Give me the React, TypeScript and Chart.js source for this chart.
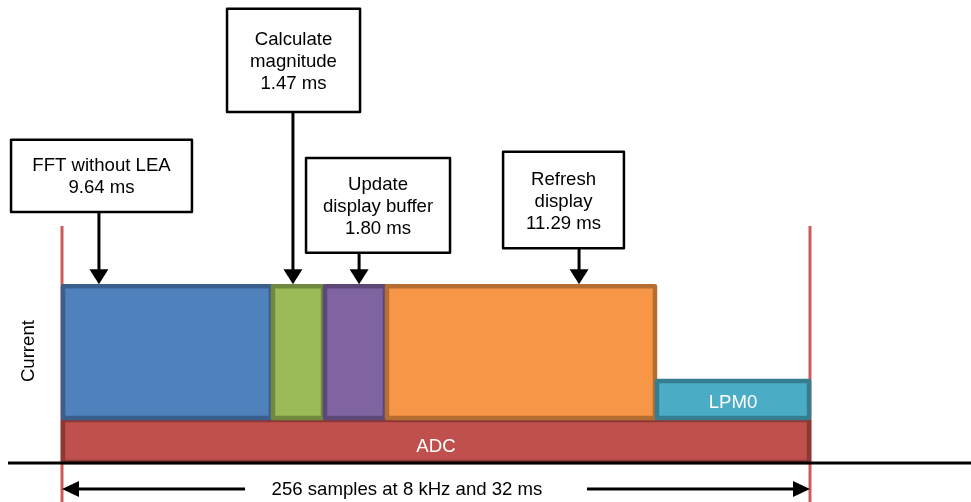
import React, { useEffect, useRef } from "react";
import { Chart, registerables } from "chart.js";
Chart.register(...registerables);

// ---- data (time in ms as drawn, current in arbitrary units) ----
const phaseNames = ["FFT without LEA", "Calculate magnitude", "Update display buffer", "Refresh display", "LPM0"];
const phaseStartMs = [0, 8.98, 11.21, 13.86, 25.41];
const phaseEndMs = [8.98, 11.21, 13.86, 25.41, 32];
const phaseCurrent = [38.4, 38.4, 38.4, 38.4, 17.9];
const phaseInnerLabel = ["", "", "", "", "LPM0"];
const adcLabel = "ADC";
const adcCurrent = 9.5;
const totalMs = 32;
const calloutText = [
  ["FFT without LEA", "9.64 ms"],
  ["Calculate", "magnitude", "1.47 ms"],
  ["Update", "display buffer", "1.80 ms"],
  ["Refresh", "display", "11.29 ms"],
];
const spanLabel = "256 samples at 8 kHz and 32 ms";
const yAxisLabel = "Current";

// ---- layout / style ----
const calloutBox = [
  { left: -2.18, right: 5.56, top: 69.8, bottom: 54.2, arrowX: 1.58 },
  { left: 7.06, right: 12.75, top: 98.1, bottom: 75.8, arrowX: 9.88 },
  { left: 10.44, right: 16.6, top: 65.9, bottom: 45.4, arrowX: 12.71 },
  { left: 18.87, right: 24.04, top: 67.2, bottom: 46.4, arrowX: 22.12 },
];
const fills = ["#4F81BD", "#9BBB59", "#8064A2", "#F79646", "#4BACC6"];
const borders = ["#3A5F8C", "#71893F", "#5C4776", "#B66D31", "#357D91"];
const adcFill = "#C0504D";
const adcBorder = "#8C3836";
const FONT = '18.6px "Liberation Sans", Arial, sans-serif';

const diagramPlugin = {
  id: "diagram",
  afterDraw(chart: any) {
    const ctx = chart.ctx as CanvasRenderingContext2D;
    const xs = chart.scales.x;
    const ys = chart.scales.y;
    const px = (v: number) => xs.getPixelForValue(v);
    const py = (v: number) => ys.getPixelForValue(v);
    const W = chart.width;
    const H = chart.height;
    ctx.save();

    // red boundary lines
    ctx.strokeStyle = "#CF5B59";
    ctx.lineWidth = 3;
    [0, totalMs].forEach((t) => {
      ctx.beginPath();
      ctx.moveTo(px(t), py(51.2));
      ctx.lineTo(px(t), H);
      ctx.stroke();
    });

    const rect = (x0: number, x1: number, y0: number, y1: number, fill: string, stroke: string) => {
      const l = px(x0), r = px(x1), t = py(y1), b = py(y0);
      ctx.fillStyle = fill;
      ctx.fillRect(l, t, r - l, b - t);
      ctx.strokeStyle = stroke;
      ctx.lineWidth = 4.5;
      ctx.lineJoin = "round";
      ctx.strokeRect(l + 1, t + 1, r - l - 2, b - t - 2);
    };

    // ADC bar
    rect(0, totalMs, 0, adcCurrent, adcFill, adcBorder);
    // phase bars
    phaseNames.forEach((_, i) => {
      rect(phaseStartMs[i], phaseEndMs[i], adcCurrent, phaseCurrent[i], fills[i], borders[i]);
    });

    ctx.font = FONT;
    ctx.textAlign = "center";
    ctx.textBaseline = "alphabetic";
    ctx.fillStyle = "#FFFFFF";
    ctx.fillText(adcLabel, px(totalMs / 2), (py(0) + py(adcCurrent)) / 2 + 10.5);
    phaseNames.forEach((_, i) => {
      if (phaseInnerLabel[i]) {
        ctx.fillText(
          phaseInnerLabel[i],
          (px(phaseStartMs[i]) + px(phaseEndMs[i])) / 2,
          (py(adcCurrent) + py(phaseCurrent[i])) / 2 + 8
        );
      }
    });

    // baseline axis
    ctx.strokeStyle = "#000";
    ctx.lineWidth = 3;
    ctx.beginPath();
    ctx.moveTo(8, py(0));
    ctx.lineTo(W, py(0));
    ctx.stroke();

    const arrowDown = (x: number, y0: number, y1: number) => {
      ctx.strokeStyle = "#000";
      ctx.fillStyle = "#000";
      ctx.lineWidth = 3;
      ctx.beginPath();
      ctx.moveTo(x, y0);
      ctx.lineTo(x, y1 - 13);
      ctx.stroke();
      ctx.beginPath();
      ctx.moveTo(x - 9.5, y1 - 15);
      ctx.lineTo(x + 9.5, y1 - 15);
      ctx.lineTo(x, y1);
      ctx.closePath();
      ctx.fill();
    };

    // callouts
    calloutText.forEach((lines, i) => {
      const b = calloutBox[i];
      const l = px(b.left), r = px(b.right), t = py(b.top), bt = py(b.bottom);
      ctx.fillStyle = "#FFFFFF";
      ctx.fillRect(l, t, r - l, bt - t);
      ctx.strokeStyle = "#000";
      ctx.lineWidth = 2.5;
      ctx.strokeRect(l, t, r - l, bt - t);
      ctx.fillStyle = "#000";
      ctx.font = FONT;
      ctx.textAlign = "center";
      const cx = (l + r) / 2;
      const cy = (t + bt) / 2;
      lines.forEach((s, k) => {
        const lineY = cy + (k - (lines.length - 1) / 2) * 22;
        ctx.fillText(s, cx, lineY + 6.5);
      });
      const tipBar = phaseNames.findIndex((_, j) => b.arrowX >= phaseStartMs[j] && b.arrowX <= phaseEndMs[j]);
      arrowDown(px(b.arrowX), bt, py(phaseCurrent[tipBar]) - 1);
    });

    // span dimension arrow
    const ay = py(-5.6);
    ctx.strokeStyle = "#000";
    ctx.fillStyle = "#000";
    ctx.lineWidth = 3;
    ctx.beginPath();
    ctx.moveTo(px(0) + 14, ay);
    ctx.lineTo(px(7.83), ay);
    ctx.moveTo(px(22.46), ay);
    ctx.lineTo(px(totalMs) - 14, ay);
    ctx.stroke();
    ctx.beginPath();
    ctx.moveTo(px(0), ay);
    ctx.lineTo(px(0) + 17, ay - 8);
    ctx.lineTo(px(0) + 17, ay + 8);
    ctx.closePath();
    ctx.fill();
    ctx.beginPath();
    ctx.moveTo(px(totalMs), ay);
    ctx.lineTo(px(totalMs) - 17, ay - 8);
    ctx.lineTo(px(totalMs) - 17, ay + 8);
    ctx.closePath();
    ctx.fill();
    ctx.font = FONT;
    ctx.textAlign = "center";
    ctx.fillText(spanLabel, px(14.76), ay + 6.5);

    // y axis label
    ctx.save();
    ctx.translate(px(0) - 33, (py(adcCurrent) + py(phaseCurrent[0])) / 2 - 1);
    ctx.rotate(-Math.PI / 2);
    ctx.textAlign = "center";
    ctx.textBaseline = "middle";
    ctx.fillText(yAxisLabel, 0, 0);
    ctx.restore();

    ctx.restore();
  },
};

export default function App() {
  const ref = useRef<HTMLCanvasElement | null>(null);
  useEffect(() => {
    if (!ref.current) return;
    const chart = new Chart(ref.current, {
      type: "scatter",
      data: { datasets: [] },
      options: {
        animation: false,
        responsive: false,
        devicePixelRatio: 1,
        layout: { padding: { left: 62, right: 161, top: 0, bottom: 39 } },
        scales: {
          x: { type: "linear", min: 0, max: totalMs, display: false },
          y: { type: "linear", min: 0, max: 100, display: false },
        },
        plugins: { legend: { display: false }, tooltip: { enabled: false } },
      },
      plugins: [diagramPlugin],
    } as any);
    return () => chart.destroy();
  }, []);
  return (
    <div style={{ position: "absolute", left: 0, top: 0, width: 971, height: 502, background: "#fff" }}>
      <canvas ref={ref} width={971} height={502} style={{ display: "block" }} />
    </div>
  );
}
